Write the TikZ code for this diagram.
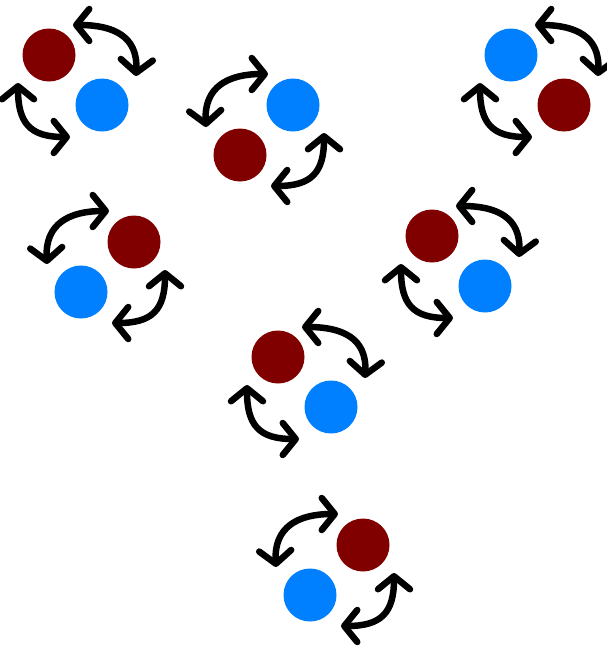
\documentclass[tikz,border=0pt]{standalone}
\usetikzlibrary{arrows.meta}
\definecolor{dotred}{RGB}{128,0,0}
\definecolor{dotblue}{RGB}{0,128,255}
\tikzset{
  dot/.style={circle,inner sep=0pt,minimum size=53pt,draw=none},
  barb/.tip={Straight Barb[length=13pt,width=32pt,round]},
  swaparrow/.style={line width=6.5pt,line cap=round,line join=round,barb-barb},
}
\newcommand\pairA[5]{%
\begin{scope}[shift={(#1,#2)}]
\node[dot,fill=#3] (#5t) at (0,0) {};
\node[dot,fill=#4] (#5b) at (53,50) {};
\coordinate (#5u1) at (24,-30);
\coordinate (#5u2) at (87,21);
\coordinate (#5l1) at (-31,28);
\coordinate (#5l2) at (21,82);
\draw[swaparrow] (#5u1) .. controls +(40,0) and +(2,-40) .. (#5u2);
\draw[swaparrow] (#5l1) .. controls +(0,40) and +(-40,0) .. (#5l2);
\end{scope}}
\newcommand\pairB[5]{%
\begin{scope}[shift={(#1,#2)}]
\node[dot,fill=#3] (#5t) at (0,0) {};
\node[dot,fill=#4] (#5b) at (-53,50) {};
\coordinate (#5u1) at (-87,22);
\coordinate (#5u2) at (-25,-31);
\coordinate (#5l1) at (31,28);
\coordinate (#5l2) at (-22,81);
\draw[swaparrow] (#5u1) .. controls +(-2,-40) and +(-40,0) .. (#5u2);
\draw[swaparrow] (#5l1) .. controls +(0,40) and +(40,0) .. (#5l2);
\end{scope}}
\begin{document}
\begin{tikzpicture}[x=1pt,y=-1pt]
\useasboundingbox (0,0) rectangle (606,646);
\pairA{49}{55}{dotred}{dotblue}{g1}
\pairB{293}{105}{dotblue}{dotred}{g2}
\pairA{511}{55}{dotblue}{dotred}{g3}
\pairB{134}{242}{dotred}{dotblue}{g4}
\pairA{432}{236}{dotred}{dotblue}{g5}
\pairA{278}{357}{dotred}{dotblue}{g6}
\pairB{363}{545}{dotred}{dotblue}{g7}
\end{tikzpicture}
\end{document}
